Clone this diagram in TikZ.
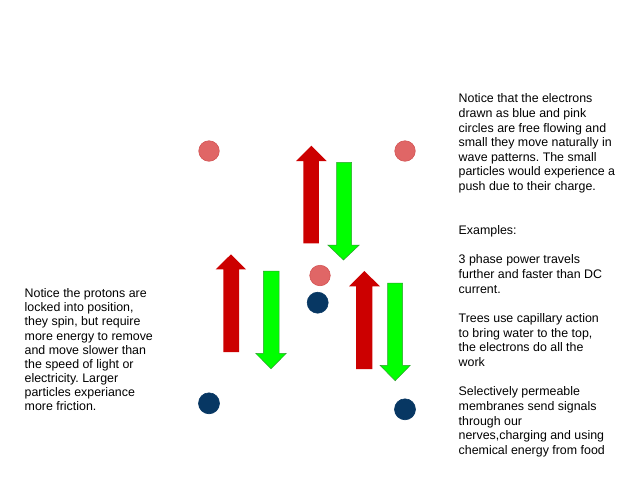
\documentclass[tikz,border=0pt]{standalone}
\usepackage{fontspec}
\setmainfont{Liberation Sans}
\frenchspacing
\begin{document}
\begin{tikzpicture}[x=1pt,y=-1pt,
  pinkdot/.style={circle,fill=pinkc,draw=pinkedge,line width=0.6pt,minimum size=20.5pt,inner sep=0pt},
  bluedot/.style={circle,fill=bluec,draw=bluec,line width=0.6pt,minimum size=21pt,inner sep=0pt},
  redarrow/.style={fill=redc,draw=none},
  greenarrow/.style={fill=greenc,draw=greenedge,line width=0.5pt},
  textblock/.style={anchor=base west,align=left,inner sep=0pt,font=\fontsize{12.4}{14.65}\selectfont},
  leftblock/.style={textblock,font=\fontsize{12.4}{14.1}\selectfont}]
\definecolor{pinkc}{HTML}{E06666}
\definecolor{pinkedge}{HTML}{D45555}
\definecolor{bluec}{HTML}{073763}
\definecolor{redc}{HTML}{CC0000}
\definecolor{greenc}{HTML}{00FF00}
\definecolor{greenedge}{HTML}{2E9E2E}
\useasboundingbox[fill=white] (0,0) rectangle (640,480);

% particles
\node[pinkdot] (p1) at (209,151) {};
\node[pinkdot] (p2) at (405,151) {};
\node[pinkdot] (p3) at (320,275.5) {};
\node[bluedot] (b1) at (317.7,302.7) {};
\node[bluedot] (b2) at (209,403.3) {};
\node[bluedot] (b3) at (405,409.3) {};

% arrows (up = red, down = green)
\fill[redarrow] (303.3,243.3) -- (303.3,161) -- (296,161) -- (311.3,145.7) -- (326.7,161) -- (318.8,161) -- (318.8,243.3) -- cycle;
\filldraw[greenarrow] (336.5,162.3) -- (336.5,245) -- (327.8,245) -- (343.5,260) -- (359.3,245) -- (351.7,245) -- (351.7,162.3) -- cycle;

\fill[redarrow] (223.3,352) -- (223.3,269.3) -- (215.7,269.3) -- (231,254.3) -- (246,269.3) -- (239,269.3) -- (239,352) -- cycle;
\filldraw[greenarrow] (263.3,271) -- (263.3,353.3) -- (255.7,353.3) -- (271,368.7) -- (286.3,353.3) -- (279,353.3) -- (279,271) -- cycle;

\fill[redarrow] (356,369) -- (356,286.3) -- (349,286.3) -- (364.3,271) -- (380,286.3) -- (372.3,286.3) -- (372.3,369) -- cycle;
\filldraw[greenarrow] (387.7,283) -- (387.7,365.3) -- (380,365.3) -- (395.2,380.7) -- (410.3,365.3) -- (402.7,365.3) -- (402.7,283) -- cycle;

% texts (base anchor = baseline of the last line)
\node[textblock] (rt) at (458.5,454.3) {Notice that the electrons\\
drawn as blue and pink\\
circles are free flowing and\\
small they move naturally in\\
wave patterns. The small\\
particles would experience a\\
push due to their charge.\\
\mbox{}\\
\mbox{}\\
Examples:\\
\mbox{}\\
3 phase power travels\\
further and faster than DC\\
current.\\
\mbox{}\\
Trees use capillary action\\
to bring water to the top,\\
the electrons do all the\\
work\\
\mbox{}\\
Selectively permeable\\
membranes send signals\\
through our\\
nerves,charging and using\\
chemical energy from food};

\node[leftblock] (lt) at (24.5,410.5) {Notice the protons are\\
locked into position,\\
they spin, but require\\
more energy to remove\\
and move slower than\\
the speed of light or\\
electricity. Larger\\
particles experiance\\
more friction.};
\end{tikzpicture}
\end{document}
